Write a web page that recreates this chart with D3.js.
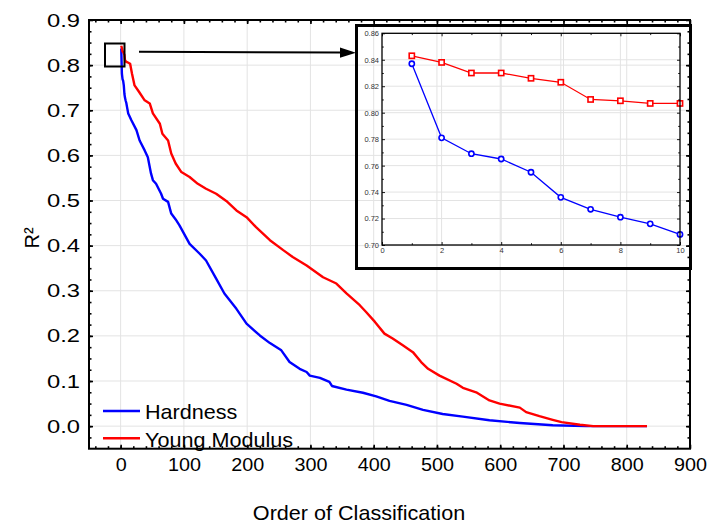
<!DOCTYPE html>
<html>
<head>
<meta charset="utf-8">
<script src="https://cdn.jsdelivr.net/npm/d3@7"></script>
<style>
  html, body { margin: 0; padding: 0; background: #fff; }
  svg { display: block; font-family: "Liberation Sans", Arial, sans-serif; }
</style>
</head>
<body>
<svg id="chart" width="708" height="528"></svg>
<script>
// R² against order of classification, [order, R²]
const hardness = [
  [1,0.837],[2,0.781],[3,0.769],[4,0.765],[5,0.755],[6,0.736],[7,0.727],[8,0.721],[9,0.716],[10,0.708],
  [12,0.693],[17,0.678],[25,0.656],[30,0.633],[38,0.611],[43,0.596],[48,0.560],[51,0.545],[56,0.537],
  [64,0.515],[67,0.504],[75,0.497],[80,0.471],[87,0.458],[93,0.445],[109,0.404],[125,0.382],[135,0.367],
  [151,0.327],[164,0.294],[183,0.260],[199,0.227],[220,0.201],[236,0.184],[254,0.168],[267,0.142],
  [283,0.127],[294,0.120],[299,0.112],[315,0.107],[330,0.098],[334,0.089],[357,0.081],[383,0.074],
  [404,0.066],[425,0.056],[452,0.047],[478,0.036],[509,0.027],[541,0.021],[583,0.013],[631,0.007],
  [683,0.002],[736,0.000],[832,0.000]
];
const youngModulus = [
  [1,0.843],[2,0.838],[3,0.830],[4,0.830],[5,0.826],[6,0.823],[7,0.810],[8,0.809],[9,0.807],[10,0.807],
  [15,0.803],[18,0.781],[22,0.755],[29,0.741],[38,0.722],[46,0.715],[51,0.693],[62,0.670],[66,0.648],
  [75,0.633],[80,0.604],[87,0.582],[96,0.563],[109,0.552],[122,0.537],[135,0.526],[151,0.515],
  [167,0.499],[183,0.478],[199,0.463],[214,0.441],[236,0.412],[257,0.390],[272,0.375],[294,0.356],
  [320,0.330],[341,0.316],[357,0.294],[378,0.268],[388,0.253],[402,0.231],[417,0.205],[430,0.194],
  [446,0.179],[462,0.164],[475,0.142],[486,0.127],[504,0.112],[531,0.094],[541,0.085],[562,0.075],
  [583,0.057],[599,0.050],[631,0.041],[641,0.031],[662,0.022],[683,0.014],[697,0.009],[726,0.003],
  [747,0.000],[832,0.000]
];
// first ten classifications, shown enlarged in the inset
const insetOrder = [1,2,3,4,5,6,7,8,9,10];
const insetHardness = [0.837,0.781,0.769,0.765,0.755,0.736,0.727,0.721,0.716,0.708];
const insetYoung = [0.843,0.838,0.830,0.830,0.826,0.823,0.810,0.809,0.807,0.807];

const xTicks = [0,100,200,300,400,500,600,700,800,900];
const yTicks = [0.0,0.1,0.2,0.3,0.4,0.5,0.6,0.7,0.8,0.9];
const insetXTicks = [0,2,4,6,8,10];
const insetYTicks = [0.70,0.72,0.74,0.76,0.78,0.80,0.82,0.84,0.86];

const seriesNames = ["Hardness","Young Modulus"];
const seriesColors = ["#0000ff","#ff0000"];

const svg = d3.select("#chart");

// text in this figure is drawn slightly wide; stretch about the anchor point
function widen(sel, k) {
  sel.each(function () {
    const t = d3.select(this);
    const ax = +t.attr("x") || 0;
    t.attr("transform", `translate(${ax},0) scale(${k},1) translate(${-ax},0)`);
  });
}

// main scales
const x = d3.scaleLinear().domain([-50, 900]).range([89, 690]);
const y = d3.scaleLinear().domain([-0.05, 0.9]).range([448.7, 20]);

const gridColor = "#e3e3e3";
const grid = svg.append("g");
grid.selectAll(".vx").data(xTicks).join("line")
  .attr("x1", d => x(d)).attr("x2", d => x(d))
  .attr("y1", y.range()[1]).attr("y2", y.range()[0])
  .attr("stroke", gridColor).attr("stroke-width", 1);
grid.selectAll(".hy").data(yTicks).join("line")
  .attr("y1", d => y(d)).attr("y2", d => y(d))
  .attr("x1", x.range()[0]).attr("x2", x.range()[1])
  .attr("stroke", gridColor).attr("stroke-width", 1);

// inset scales
const xi = d3.scaleLinear().domain([0, 10]).range([382, 680]);
const yi = d3.scaleLinear().domain([0.70, 0.86]).range([245, 33.3]);

const igrid = svg.append("g");
igrid.selectAll(".vx").data(insetXTicks.slice(1, -1)).join("line")
  .attr("x1", d => xi(d)).attr("x2", d => xi(d))
  .attr("y1", yi.range()[1]).attr("y2", yi.range()[0])
  .attr("stroke", gridColor).attr("stroke-width", 1);
igrid.selectAll(".hy").data(insetYTicks.slice(1, -1)).join("line")
  .attr("y1", d => yi(d)).attr("y2", d => yi(d))
  .attr("x1", xi.range()[0]).attr("x2", xi.range()[1])
  .attr("stroke", gridColor).attr("stroke-width", 1);

// main curves
const line = d3.line().x(d => x(d[0])).y(d => y(d[1]));
[hardness, youngModulus].forEach((s, i) => {
  svg.append("path").datum(s)
    .attr("d", line)
    .attr("fill", "none")
    .attr("stroke", seriesColors[i])
    .attr("stroke-width", 2.4)
    .attr("stroke-linejoin", "round");
});

// main frame and ticks (inward, with minors)
svg.append("rect")
  .attr("x", x.range()[0]).attr("y", y.range()[1])
  .attr("width", x.range()[1] - x.range()[0])
  .attr("height", y.range()[0] - y.range()[1])
  .attr("fill", "none").attr("stroke", "#000").attr("stroke-width", 2);

const xMinor = d3.range(-40, 900, 20);
const yMinor = d3.range(-0.025, 0.9, 0.025).map(v => +v.toFixed(3));

function tickAxis(axisFn, scale, pos, vals, size, labels, pad) {
  const a = axisFn(scale).tickValues(vals).tickSizeInner(-size).tickSizeOuter(0);
  if (labels) a.tickPadding(pad || 8).tickFormat(labels);
  else a.tickFormat("");
  const g = svg.append("g").attr("transform", pos).call(a);
  g.select(".domain").remove();
  g.selectAll(".tick line").attr("stroke", "#000").attr("stroke-width", 1.6);
  return g;
}
const bottomPos = `translate(0,${y.range()[0]})`;
const topPos = `translate(0,${y.range()[1]})`;
const leftPos = `translate(${x.range()[0]},0)`;
const rightPos = `translate(${x.range()[1]},0)`;

tickAxis(d3.axisBottom, x, bottomPos, xMinor, 2.5);
tickAxis(d3.axisTop, x, topPos, xMinor, 2.5);
tickAxis(d3.axisLeft, y, leftPos, yMinor, 2.5);
tickAxis(d3.axisRight, y, rightPos, yMinor, 2.5);

const xAx = tickAxis(d3.axisBottom, x, bottomPos, xTicks, 4, d3.format("d"), 9);
const yAx = tickAxis(d3.axisLeft, y, leftPos, yTicks, 4, d3.format(".1f"), 9);
tickAxis(d3.axisTop, x, topPos, xTicks, 4);
tickAxis(d3.axisRight, y, rightPos, yTicks, 4);
[xAx, yAx].forEach(g => g.selectAll(".tick text")
  .attr("font-size", 19).attr("fill", "#000")
  .attr("font-family", "'Liberation Sans', Arial, sans-serif"));
widen(yAx.selectAll(".tick text"), 1.25);
widen(xAx.selectAll(".tick text"), 1.04);

// axis titles
widen(svg.append("text")
  .attr("x", 359).attr("y", 520)
  .attr("text-anchor", "middle")
  .attr("font-size", 20)
  .text("Order of Classification"), 1.08);
svg.append("text")
  .attr("transform", "translate(39,238) rotate(-90)")
  .attr("text-anchor", "middle")
  .attr("font-size", 20)
  .text("R²");

// legend
const legendRows = [411, 438.3];
const baselines = [419.3, 446.7];
seriesNames.forEach((name, i) => {
  svg.append("line")
    .attr("x1", 103).attr("x2", 140)
    .attr("y1", legendRows[i]).attr("y2", legendRows[i])
    .attr("stroke", seriesColors[i]).attr("stroke-width", 2.4);
  widen(svg.append("text")
    .attr("x", 145).attr("y", baselines[i])
    .attr("font-size", 20).attr("fill", "#000")
    .text(name), 1.08);
});

// zoom box around the first classifications and the arrow to the inset
svg.append("rect")
  .attr("x", 105).attr("y", 43.5).attr("width", 19.5).attr("height", 23)
  .attr("fill", "none").attr("stroke", "#000").attr("stroke-width", 2);
svg.append("line")
  .attr("x1", 139).attr("y1", 51.7).attr("x2", 342).attr("y2", 52.6)
  .attr("stroke", "#000").attr("stroke-width", 2);
svg.append("path")
  .attr("d", d3.line()([[356, 52.7], [340, 47.6], [340, 57.8]]))
  .attr("fill", "#000");

// inset panel
svg.append("rect")
  .attr("x", 356.5).attr("y", 25.5).attr("width", 334).attr("height", 243)
  .attr("fill", "none").attr("stroke", "#000").attr("stroke-width", 3);

const iline = d3.line().x(d => xi(d[0])).y(d => yi(d[1]));
const insetSeries = [
  insetOrder.map((o, k) => [o, insetHardness[k]]),
  insetOrder.map((o, k) => [o, insetYoung[k]])
];
insetSeries.forEach((s, i) => {
  svg.append("path").datum(s).attr("d", iline)
    .attr("fill", "none").attr("stroke", seriesColors[i]).attr("stroke-width", 1.3);
});
svg.append("g").selectAll("circle").data(insetSeries[0]).join("circle")
  .attr("cx", d => xi(d[0])).attr("cy", d => yi(d[1])).attr("r", 2.6)
  .attr("fill", "#fff").attr("stroke", seriesColors[0]).attr("stroke-width", 1.6);
svg.append("g").selectAll("rect").data(insetSeries[1]).join("rect")
  .attr("x", d => xi(d[0]) - 2.6).attr("y", d => yi(d[1]) - 2.6)
  .attr("width", 5.2).attr("height", 5.2)
  .attr("fill", "#fff").attr("stroke", seriesColors[1]).attr("stroke-width", 1.6);

svg.append("rect")
  .attr("x", xi.range()[0]).attr("y", yi.range()[1])
  .attr("width", xi.range()[1] - xi.range()[0])
  .attr("height", yi.range()[0] - yi.range()[1])
  .attr("fill", "none").attr("stroke", "#000").attr("stroke-width", 1.3);

function insetAxis(axisFn, scale, pos, vals, size, fmt) {
  const a = axisFn(scale).tickValues(vals).tickSizeInner(-size).tickSizeOuter(0)
    .tickPadding(3).tickFormat(fmt || "");
  const g = svg.append("g").attr("transform", pos).call(a);
  g.select(".domain").remove();
  g.selectAll(".tick line").attr("stroke", "#000").attr("stroke-width", 0.9);
  g.selectAll(".tick text").attr("font-size", 7.5).attr("fill", "#333")
    .attr("font-family", "'Liberation Sans', Arial, sans-serif");
  return g;
}
const ib = `translate(0,${yi.range()[0]})`, it = `translate(0,${yi.range()[1]})`;
const il = `translate(${xi.range()[0]},0)`, ir = `translate(${xi.range()[1]},0)`;
const insetXMinor = d3.range(1, 10, 2);
const insetYMinor = d3.range(0.71, 0.86, 0.02).map(v => +v.toFixed(2));
insetAxis(d3.axisBottom, xi, ib, insetXTicks, 3, d3.format("d"));
insetAxis(d3.axisLeft, yi, il, insetYTicks, 3, d3.format(".2f"));
insetAxis(d3.axisTop, xi, it, insetXTicks, 3);
insetAxis(d3.axisRight, yi, ir, insetYTicks, 3);
insetAxis(d3.axisBottom, xi, ib, insetXMinor, 1.8);
insetAxis(d3.axisTop, xi, it, insetXMinor, 1.8);
insetAxis(d3.axisLeft, yi, il, insetYMinor, 1.8);
insetAxis(d3.axisRight, yi, ir, insetYMinor, 1.8);
</script>
</body>
</html>
